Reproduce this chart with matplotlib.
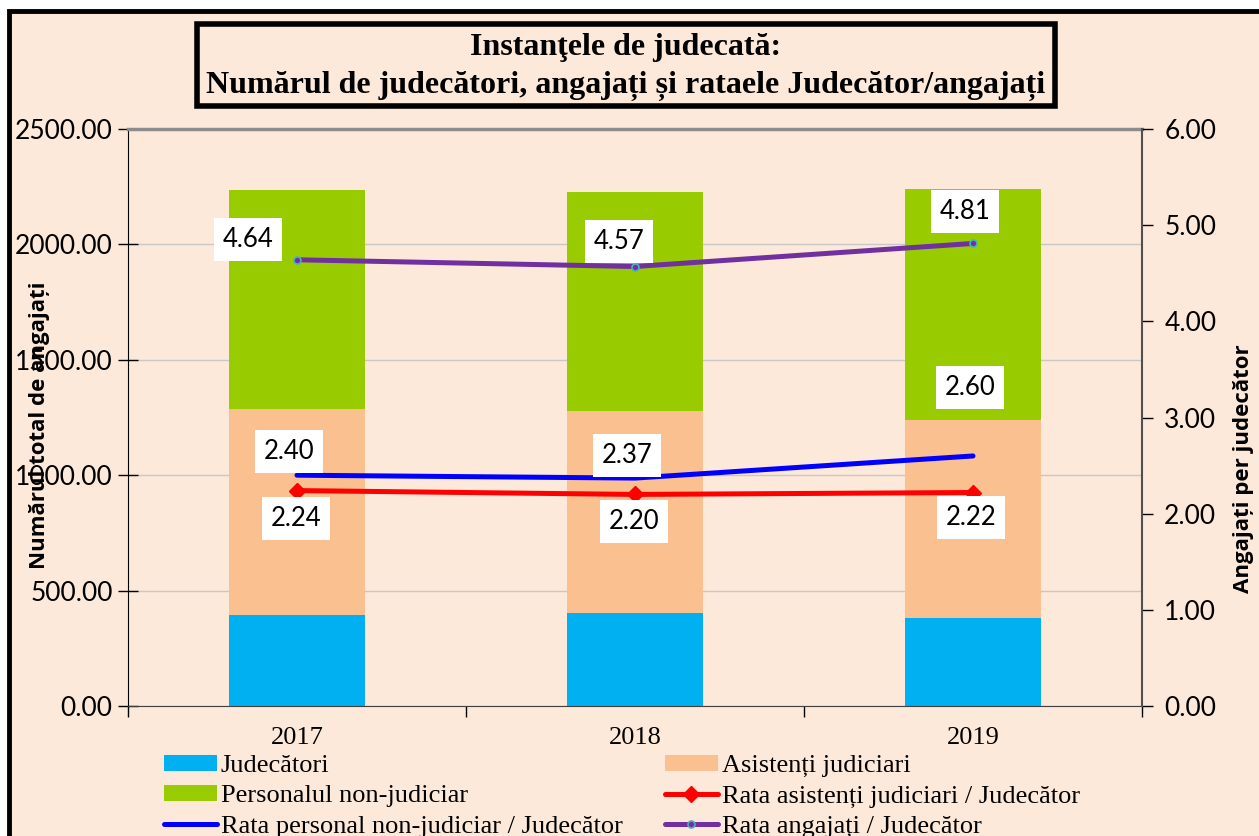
import matplotlib
matplotlib.use("Agg")
import matplotlib.pyplot as plt
from matplotlib.patches import Rectangle

# data
years = ["2017", "2018", "2019"]
judecatori = [396, 401, 383]
asistenti = [889, 878, 857]
non_judiciar = [952, 948, 999]

rata_asistenti = [2.24, 2.20, 2.22]
rata_non_judiciar = [2.40, 2.37, 2.60]
rata_angajati = [4.64, 4.57, 4.81]

bg = "#FDE9D9"
c_jud = "#00B0F0"
c_asist = "#FAC090"
c_non = "#99CC00"
c_red = "#FF0000"
c_blue = "#0000FF"
c_purple = "#7030A0"

sans = ["Lato", "DejaVu Sans"]
serif = ["Liberation Serif", "DejaVu Serif"]
label_font = ["Open Sans", "DejaVu Sans"]

fig = plt.figure(figsize=(12.59, 8.36), dpi=100, facecolor="white")
W, H = 1259, 836

# chart area with black border
fig.patches.append(Rectangle((9 / W, -0.1), 1.2, 1 - 11 / H + 0.1,
                             transform=fig.transFigure, facecolor=bg,
                             edgecolor="black", linewidth=3.5, zorder=0))

# title box
fig.patches.append(Rectangle((197 / W, 1 - 106 / H), 858 / W, 82 / H,
                             transform=fig.transFigure, facecolor=bg,
                             edgecolor="black", linewidth=4, zorder=1))
fig.text(626 / W, 1 - 47 / H, "Instanţele de judecată:", ha="center", va="center",
         fontsize=23, fontweight="bold", family=serif)
fig.text(626 / W, 1 - 86 / H, "Numărul de judecători, angajați și rataele Judecător/angajați",
         ha="center", va="center", fontsize=23, fontweight="bold", family=serif)

ax = fig.add_axes([128 / W, 1 - 706 / H, 1014 / W, 577 / H])
ax.set_facecolor(bg)
ax.set_zorder(2)
x = list(range(len(years)))
bw = 0.4

b1 = ax.bar(x, judecatori, bw, color=c_jud, zorder=2)
b2 = ax.bar(x, asistenti, bw, bottom=judecatori, color=c_asist, zorder=2)
bottom3 = [a + b for a, b in zip(judecatori, asistenti)]
b3 = ax.bar(x, non_judiciar, bw, bottom=bottom3, color=c_non, zorder=2)

ax.set_xlim(-0.5, 2.5)
ax.set_ylim(0, 2500)
ax.set_yticks(range(0, 2501, 500))
ax.set_yticklabels([f"{v:.2f}" for v in range(0, 2501, 500)], family=sans, fontsize=19)
ax.yaxis.grid(True, color="#C8C8C8", linewidth=1, zorder=0)
ax.set_axisbelow(True)
ax.tick_params(axis="y", direction="inout", length=14, width=1, pad=4, colors="black")
ax.set_xticks(x)
ax.set_xticklabels(years, family=serif, fontsize=19)
ax.set_xticks([-0.5, 0.5, 1.5, 2.5], minor=True)
ax.tick_params(axis="x", which="major", length=0, pad=15)
ax.tick_params(axis="x", which="minor", length=8, width=1, direction="out")
ax.spines["left"].set_color("black")
ax.spines["bottom"].set_color("#404040")
ax.spines["top"].set_color("#8C8C8C")
ax.spines["top"].set_linewidth(2.5)
ax.spines["right"].set_visible(False)
ax.set_ylabel("Numărul total de angajați", family=label_font,
              fontweight="bold", fontsize=16)
ax.yaxis.set_label_coords(-78 / 1014, (706 - 425) / 577)

ax2 = ax.twinx()
ax2.set_ylim(0, 6)
ax2.set_yticks(range(0, 7))
ax2.set_yticklabels([f"{v:.2f}" for v in range(0, 7)], family=sans, fontsize=19)
ax2.tick_params(axis="y", direction="out", length=8, width=1, pad=8, colors="black")
ax2.spines["right"].set_color("#505050")
ax2.spines["right"].set_linewidth(1.5)
for s in ["left", "top", "bottom"]:
    ax2.spines[s].set_visible(False)
ax2.set_ylabel("Angajați per judecător", family=label_font,
               fontweight="bold", fontsize=16)
ax2.yaxis.set_label_coords(1 + 91 / 1014, (706 - 469) / 577)

l_red, = ax2.plot(x, rata_asistenti, color=c_red, lw=3.6, marker="D", ms=8,
                  solid_capstyle="round", zorder=4)
l_blue, = ax2.plot(x, rata_non_judiciar, color=c_blue, lw=3.6,
                   solid_capstyle="round", zorder=4)
l_purple, = ax2.plot(x, rata_angajati, color=c_purple, lw=3.6, marker="o", ms=5,
                     mfc=c_purple, mec="#4BACC6", mew=1.2,
                     solid_capstyle="round", zorder=4)

# data label offsets (pixels from the point)
offsets = {
    "asist": [(-1, -28), (-1, -27), (-2, -25)],
    "non": [(-8, 24), (-8, 23), (-3, 68)],
    "ang": [(-49, 20), (-16, 25), (-8, 32)],
}
for key, vals in [("asist", rata_asistenti), ("non", rata_non_judiciar), ("ang", rata_angajati)]:
    for i, v in enumerate(vals):
        ax2.annotate(f"{v:.2f}", (x[i], v), xytext=offsets[key][i],
                     textcoords="offset pixels", ha="center", va="center",
                     family=sans, fontsize=18.5, zorder=5,
                     bbox=dict(boxstyle="square,pad=0.35", fc="white", ec="none"))

handles = [b1, b3, l_blue, b2, l_red, l_purple]
labels = ["Judecători", "Personalul non-judiciar", "Rata personal non-judiciar / Judecător",
          "Asistenți judiciari", "Rata asistenți judiciari / Judecător", "Rata angajați / Judecător"]
fig.legend(handles, labels, ncol=2, loc="upper left",
           bbox_to_anchor=(164 / W, 1 - 755 / H), frameon=False,
           prop={"family": serif, "size": 19}, handlelength=2.0, handleheight=0.55,
           handletextpad=0.15, columnspacing=1.6, labelspacing=0.3, borderaxespad=0,
           borderpad=0)

fig.savefig("out.png", dpi=100, facecolor="white")
